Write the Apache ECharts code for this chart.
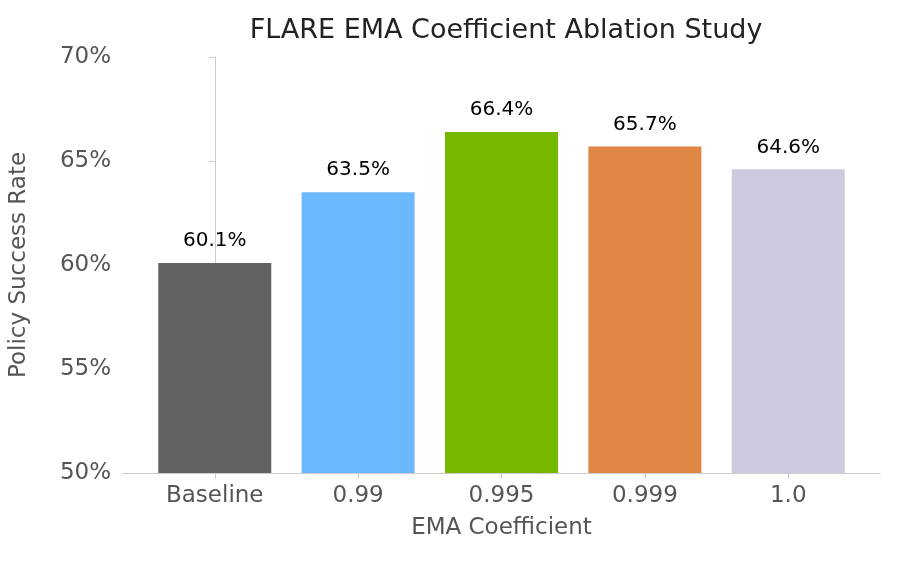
<!DOCTYPE html>
<html><head><meta charset="utf-8">
<script src="https://cdn.jsdelivr.net/npm/echarts@6/dist/echarts.min.js"></script>
<style>html,body{margin:0;padding:0;background:#fff}#c{width:897px;height:561px}</style>
</head><body><div id="c"></div>
<script>
const categories = ['Baseline', '0.99', '0.995', '0.999', '1.0'];
const values = [60.1, 63.5, 66.4, 65.7, 64.6];
const colors = ['#636363', '#6cb8ff', '#77b900', '#e08745', '#cdcadf'];
const chart = echarts.init(document.getElementById('c'));
const font = 'DejaVu Sans';
chart.setOption({
  animation: false,
  textStyle: { fontFamily: font },
  title: { text: 'FLARE EMA Coefficient Ablation Study', left: 501, top: 12, textAlign: 'center',
    textStyle: { fontFamily: font, fontSize: 27, fontWeight: 'normal', color: '#222' } },
  grid: { left: 123, right: 17, top: 57, bottom: 88 },
  xAxis: {
    type: 'value', min: -0.64, max: 4.64,
    name: 'EMA Coefficient', nameLocation: 'middle', nameGap: 44,
    nameTextStyle: { fontFamily: font, fontSize: 23, color: '#555' },
    splitLine: { show: false },
    axisLine: { lineStyle: { color: '#ccc' } },
    axisTick: { customValues: [0,1,2,3,4], length: 6, lineStyle: { color: '#ccc' } },
    axisLabel: { customValues: [0,1,2,3,4], fontSize: 23, color: '#555', margin: 12,
      formatter: v => categories[Math.round(v)] }
  },
  yAxis: {
    type: 'value', min: 50, max: 70, interval: 5,
    name: 'Policy Success Rate', nameLocation: 'middle', nameGap: 92,
    nameTextStyle: { fontFamily: font, fontSize: 23, color: '#555' },
    splitLine: { show: false },
    axisLine: { show: true, lineStyle: { color: '#ccc' } },
    axisTick: { show: true, length: 6, lineStyle: { color: '#ccc' } },
    axisLabel: { fontSize: 23, color: '#555', margin: 12, formatter: v => v + '%' }
  },
  series: [{
    type: 'bar', barWidth: 113,
    data: values.map((v, i) => ({ value: [i, v], itemStyle: { color: colors[i] } })),
    label: { show: true, position: 'top', distance: 12, fontSize: 20, color: '#000',
      formatter: p => p.value[1].toFixed(1) + '%' }
  }]
});
</script></body></html>
